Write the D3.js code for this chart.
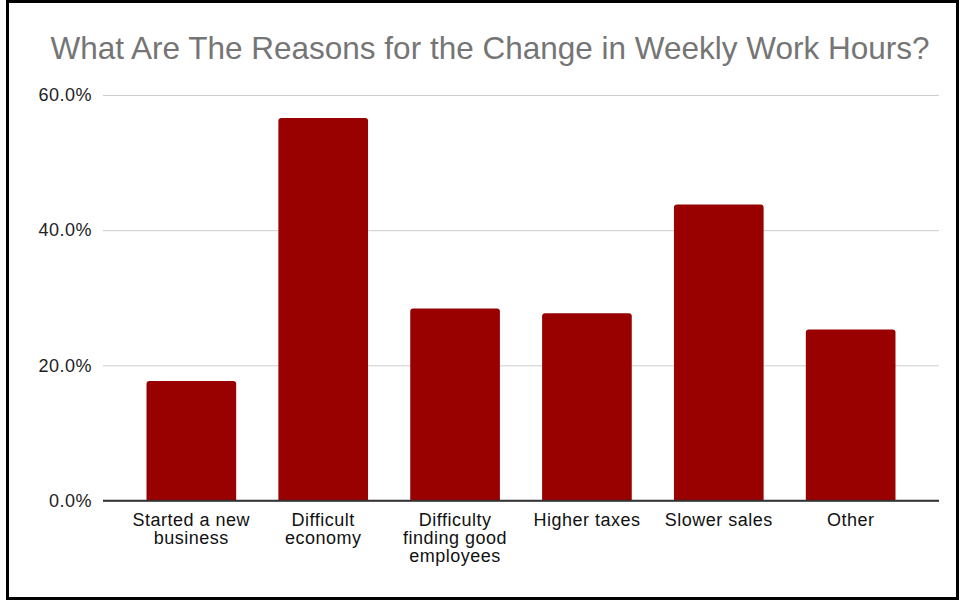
<!DOCTYPE html>
<html>
<head>
<meta charset="utf-8">
<script src="https://cdn.jsdelivr.net/npm/d3@7"></script>
<style>
  html, body { margin: 0; padding: 0; background: #fff; }
  svg { display: block; }
  text { font-family: "Liberation Sans", Arial, Helvetica, sans-serif; }
</style>
</head>
<body>
<svg id="chart" width="961" height="600"></svg>
<script>
// Survey responses: share of respondents citing each reason
const categories = [
  ["Started a new", "business"],
  ["Difficult", "economy"],
  ["Difficulty", "finding good", "employees"],
  ["Higher taxes"],
  ["Slower sales"],
  ["Other"]
];
const shares = [17.7, 56.6, 28.4, 27.7, 43.8, 25.3];
const yTicks = [0, 20, 40, 60];
const title = "What Are The Reasons for the Change in Weekly Work Hours?";

const svg = d3.select("#chart");
const plot = { left: 103, right: 939, top: 95, bottom: 500.5 };

// outer frame
svg.append("rect")
  .attr("x", 7.5).attr("y", 1.5)
  .attr("width", 950).attr("height", 597)
  .attr("fill", "#fff")
  .attr("stroke", "#000")
  .attr("stroke-width", 3);

svg.append("text")
  .attr("x", 490).attr("y", 59)
  .attr("text-anchor", "middle")
  .attr("fill", "#757575")
  .style("font-size", "31.5px")
  .text(title);

const x = d3.scaleBand()
  .domain(d3.range(categories.length))
  .range([plot.left, plot.right])
  .paddingInner(0.32)
  .paddingOuter(0.33);

const y = d3.scaleLinear()
  .domain([0, 60])
  .range([plot.bottom, plot.top]);

// horizontal gridlines and tick labels
const yAxis = d3.axisLeft(y)
  .tickValues(yTicks)
  .tickSize(-(plot.right - plot.left))
  .tickPadding(11)
  .tickFormat(d => d.toFixed(1) + "%");

const gy = svg.append("g")
  .attr("transform", `translate(${plot.left},0)`)
  .call(yAxis);
gy.select(".domain").remove();
gy.selectAll(".tick line")
  .attr("stroke", d => d === 0 ? "#333" : "#cccccc")
  .attr("stroke-width", d => d === 0 ? 1.3 : 1);
gy.selectAll(".tick text")
  .attr("fill", "#222")
  .style("font-size", "18px")
  .style("letter-spacing", "0.5px")
  .style("font-family", '"Liberation Sans", Arial, sans-serif');

// bars with softly rounded top corners
const r = 3;
function barPath(i, v) {
  const x0 = x(i), x1 = x(i) + x.bandwidth();
  const y0 = y(0), y1 = y(v);
  return `M${x0},${y0}V${y1 + r}Q${x0},${y1} ${x0 + r},${y1}H${x1 - r}Q${x1},${y1} ${x1},${y1 + r}V${y0}Z`;
}
svg.append("g")
  .selectAll("path")
  .data(shares)
  .join("path")
  .attr("d", (v, i) => barPath(i, v))
  .attr("fill", "#990000");

// baseline drawn on top of bars
svg.append("line")
  .attr("x1", plot.left).attr("x2", plot.right)
  .attr("y1", y(0)).attr("y2", y(0))
  .attr("stroke", "#333").attr("stroke-width", 1.3);

// category labels
const xl = svg.append("g");
categories.forEach((lines, i) => {
  const t = xl.append("text")
    .attr("x", x(i) + x.bandwidth() / 2)
    .attr("y", 526)
    .attr("text-anchor", "middle")
    .attr("fill", "#111")
    .style("font-size", "18px")
    .style("letter-spacing", "0.5px");
  lines.forEach((ln, k) => {
    t.append("tspan")
      .attr("x", x(i) + x.bandwidth() / 2)
      .attr("dy", k === 0 ? 0 : 17.8)
      .text(ln);
  });
});
</script>
</body>
</html>
